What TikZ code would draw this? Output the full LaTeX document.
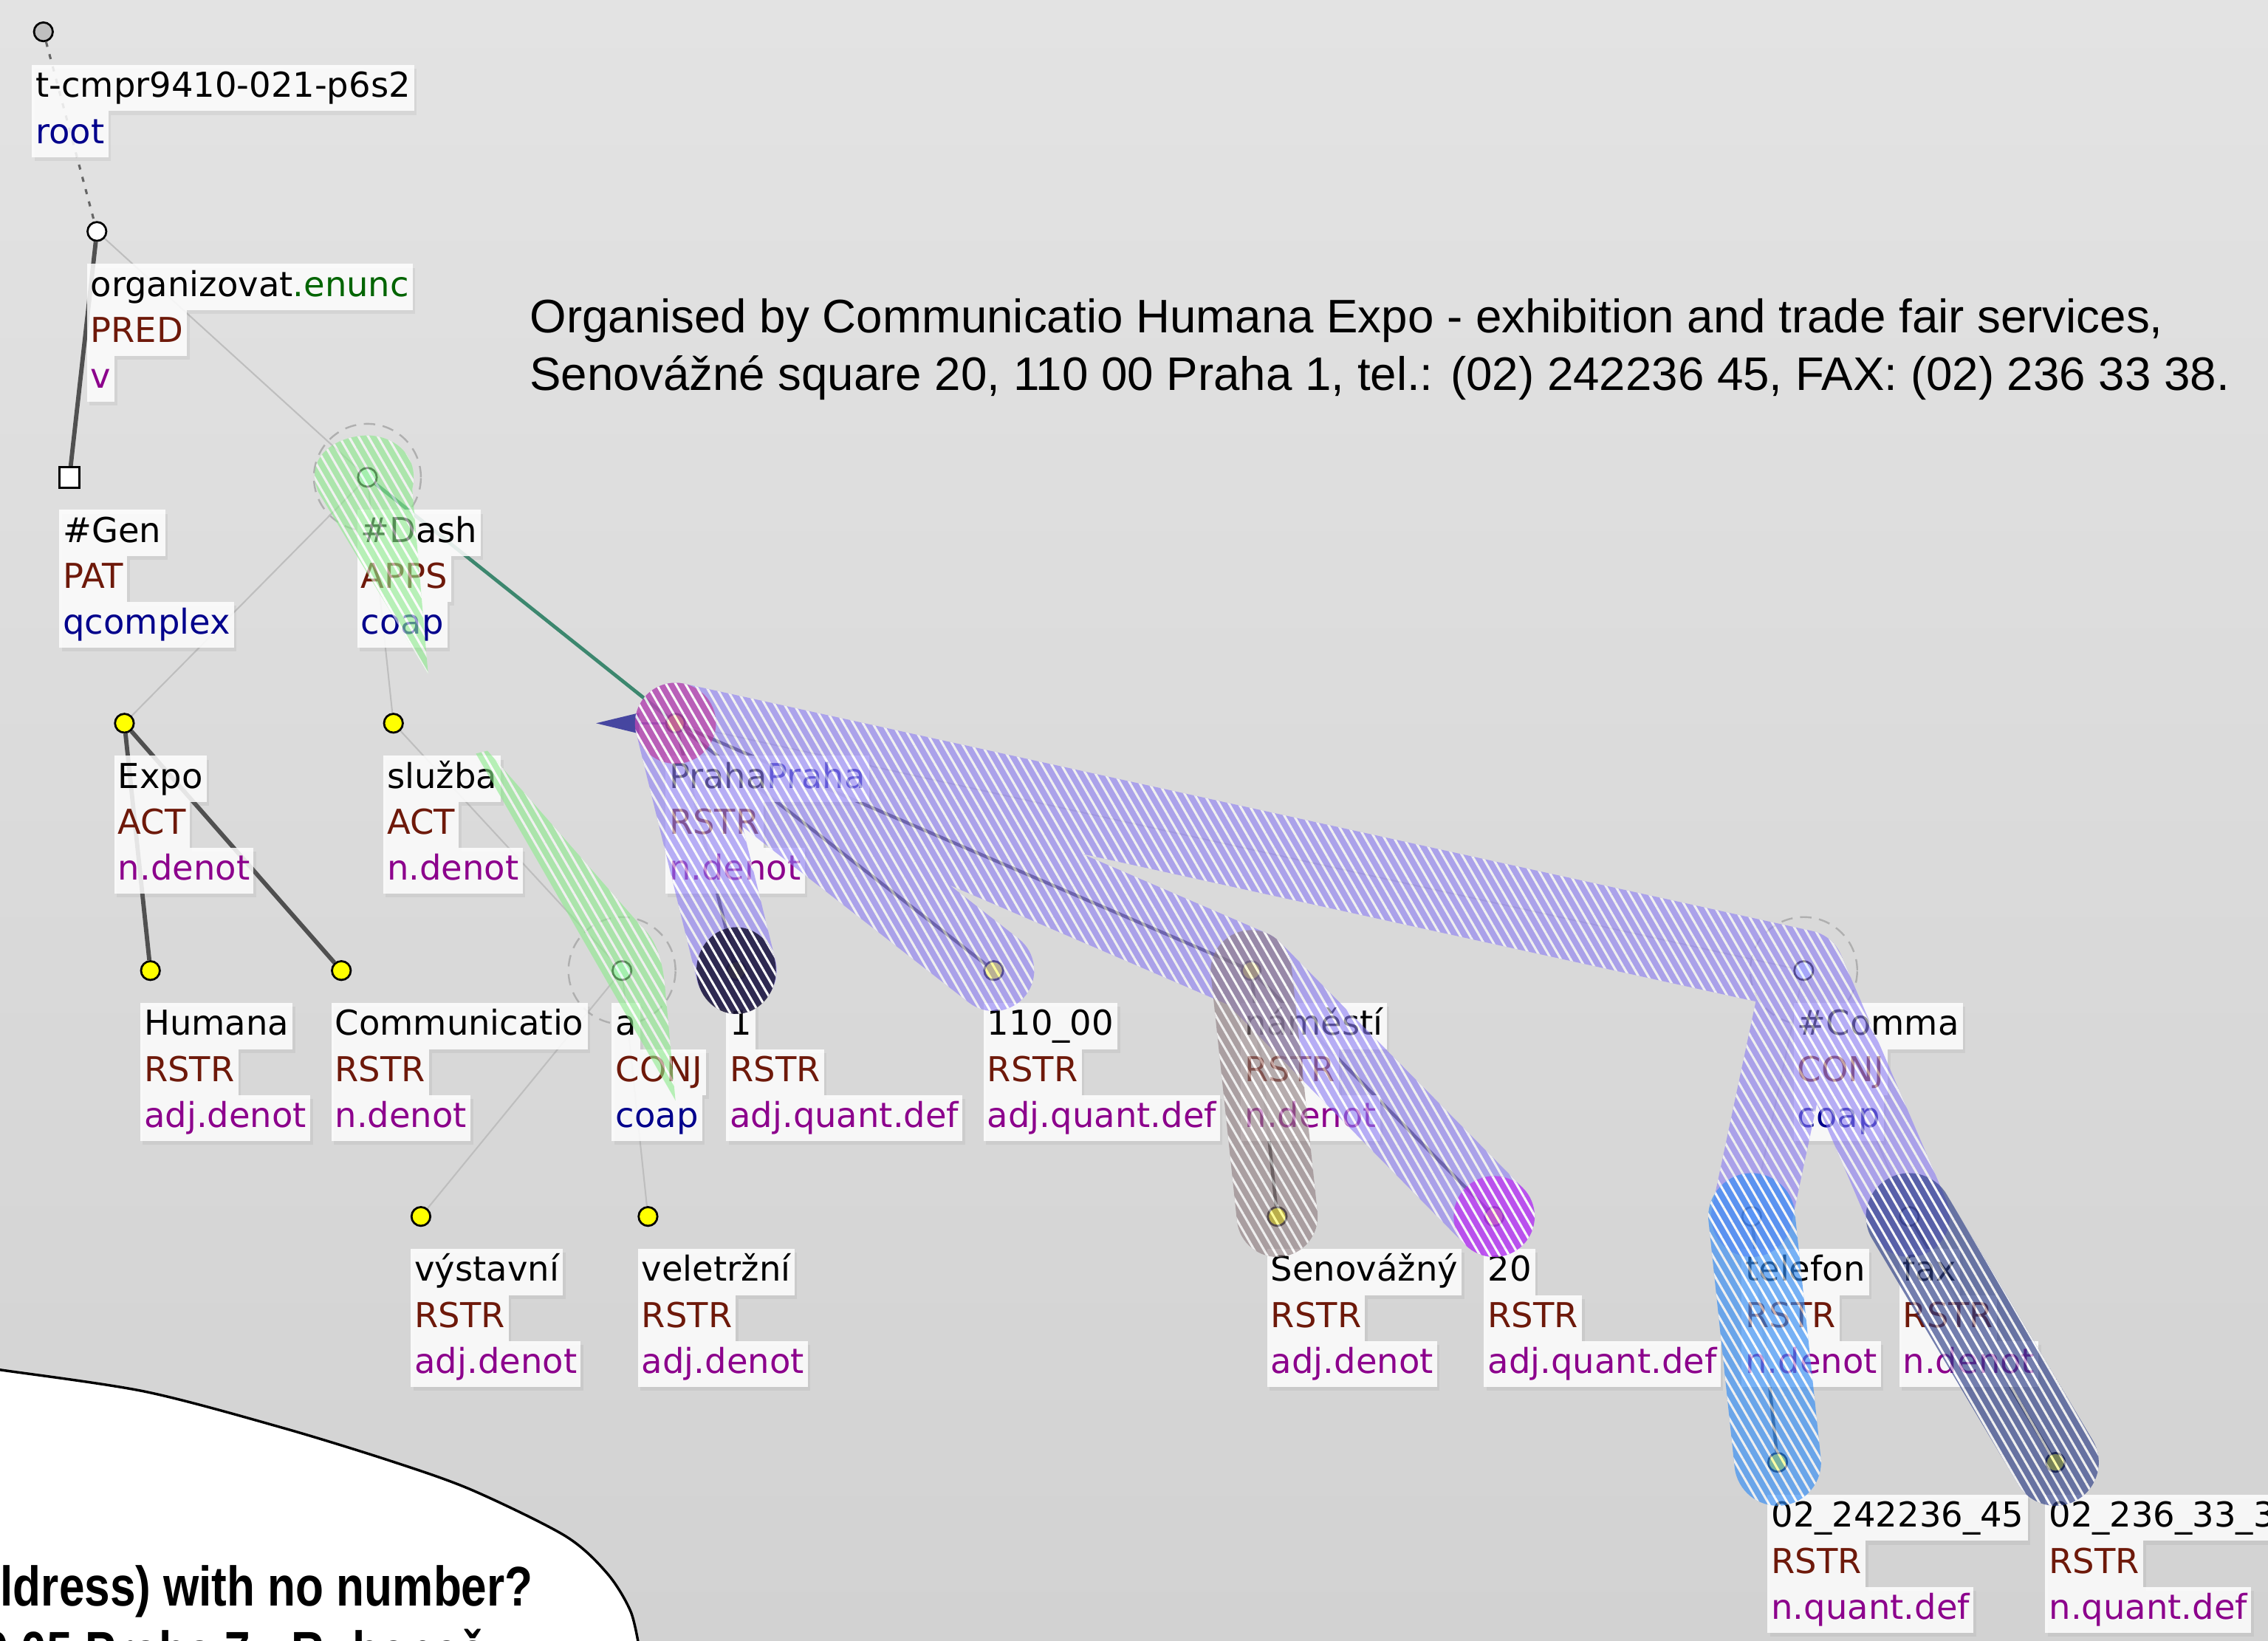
\documentclass[tikz,border=0pt]{standalone}
\usepackage{fontspec}
\newfontfamily\lblfont{DejaVu Sans}
\newfontfamily\capfont{Liberation Sans}
\newfontfamily\bubblefont[FakeStretch=0.82]{Liberation Sans}
\usetikzlibrary{arrows.meta,shadows,calc,patterns.meta}
\definecolor{bgtop}{RGB}{227,227,227}
\definecolor{bgbot}{RGB}{210,210,210}
\definecolor{funcol}{RGB}{110,25,10}
\definecolor{gramcol}{RGB}{140,0,140}
\definecolor{nblue}{RGB}{0,0,140}
\definecolor{ngreen}{RGB}{0,100,0}
\definecolor{pblue}{RGB}{40,40,170}
\definecolor{ymark}{RGB}{255,255,0}
\definecolor{mint}{RGB}{200,245,225}
\definecolor{lblue}{RGB}{205,232,255}
\definecolor{rootgray}{RGB}{190,190,190}
\definecolor{edgedark}{RGB}{80,80,80}
\definecolor{edgelight}{RGB}{190,190,190}
\definecolor{ringgray}{RGB}{175,175,175}
\definecolor{corefgreen}{RGB}{60,135,110}
\definecolor{arrblue}{RGB}{70,70,160}
\definecolor{hlpurple}{RGB}{140,125,245}
\definecolor{hlmauve}{RGB}{140,122,125}
\definecolor{hlsky}{RGB}{50,140,245}
\definecolor{hlslate}{RGB}{45,62,135}
\definecolor{hlpink}{RGB}{195,50,150}
\definecolor{hldark}{RGB}{25,20,55}
\definecolor{hlmag}{RGB}{195,40,240}
\definecolor{hlgreen}{RGB}{140,235,140}
\pgfdeclarelayer{back}
\pgfdeclarelayer{edges}
\pgfdeclarelayer{hl}
\pgfdeclarelayer{front}
\pgfsetlayers{back,edges,main,hl,front}
\tikzset{
  tn/.style={circle,draw,line width=0.8pt,inner sep=0pt,minimum size=0.26cm,fill=ymark},
  sqn/.style={rectangle,draw,line width=0.9pt,inner sep=0pt,minimum size=0.28cm,fill=white},
  lbl/.style={anchor=north west,fill=white,fill opacity=.85,text opacity=1,
    inner xsep=1.5pt,inner ysep=2.2pt,outer sep=0pt,text height=10.5pt,text depth=3.2pt,
    font=\lblfont\fontsize{13.5}{16}\selectfont,
    drop shadow={opacity=.12,shadow xshift=1pt,shadow yshift=-1.5pt}},
  thinedge/.style={draw=edgelight,line width=0.6pt},
  thickedge/.style={draw=edgedark,line width=1.7pt},
  darkedge/.style={draw=edgedark!80!black,line width=1.3pt},
  rootedge/.style={draw=gray!80!black,line width=0.9pt,dash pattern=on 2pt off 3pt},
  corefedge/.style={draw=corefgreen,line width=1.4pt},
  arrowedge/.style={draw=arrblue,line width=0.9pt,-{Triangle[length=0.6cm,width=0.28cm]}},
  coapring/.style={draw=ringgray,line width=0.7pt,dash pattern=on 4.5pt off 3pt},
  hatch/.style={postaction={pattern={Lines[angle=-60,distance=3.3pt,line width=0.9pt]},pattern color=white}},
}
\newcommand{\tlabel}[4]{%
  \node[lbl] (#1-1) at ([shift={(-7,22.5)}]#1.center) {#2};
  \node[lbl,text=funcol] (#1-2) at (#1-1.south west) {#3};
  \node[lbl,text=gramcol] (#1-3) at (#1-2.south west) {#4};}
% band with round ends between two nodes
\newcommand{\stad}[3]{%
  let \p1=(#1.center), \p2=(#2.center), \n1={atan2(\y2-\y1,\x2-\x1)} in
  ($(\p1)+(\n1+90:#3)$) arc[start angle=\n1+90,end angle=\n1+270,radius=#3]
  -- ($(\p2)+(\n1-90:#3)$) arc[start angle=\n1-90,end angle=\n1+90,radius=#3] -- cycle}
\begin{document}
\begin{tikzpicture}[x=0.02cm,y=-0.02cm]
\begin{pgfonlayer}{back}
\fill[top color=bgtop,bottom color=bgbot] (0,0) rectangle (1568,1134);
\end{pgfonlayer}
\useasboundingbox (0,0) rectangle (1568,1134);

% tree nodes
\node[tn,fill=rootgray] (root) at (30,22) {};
\node[tn,fill=white] (pred) at (67,160) {};
\node[sqn] (gen) at (48,330) {};
\node[tn,fill=mint] (dash) at (254,330) {};
\node[tn] (expo) at (86,500) {};
\node[tn] (sluzba) at (272,500) {};
\node[tn] (praha) at (467,500) {};
\node[tn] (humana) at (104,671) {};
\node[tn] (commun) at (236,671) {};
\node[tn,fill=mint] (conja) at (430,671) {};
\node[tn] (one) at (509,671) {};
\node[tn] (psc) at (687,671) {};
\node[tn] (namesti) at (865,671) {};
\node[tn,fill=lblue] (comma) at (1247,671) {};
\node[tn] (vystavni) at (291,841) {};
\node[tn] (veletrzni) at (448,841) {};
\node[tn] (senovazny) at (883,841) {};
\node[tn] (twenty) at (1033,841) {};
\node[tn,fill=lblue] (telefon) at (1211,841) {};
\node[tn,fill=lblue] (fax) at (1320,841) {};
\node[tn] (telnum) at (1229,1011) {};
\node[tn] (faxnum) at (1421,1011) {};
\coordinate (praha-ar) at (412,500);

% labels
\node[lbl] (root-1) at ([shift={(-8,23)}]root.center) {t-cmpr9410-021-p6s2};
\node[lbl,text=nblue] (root-2) at (root-1.south west) {root};
\tlabel{pred}{organizovat\textcolor{ngreen}{.enunc}}{PRED}{v}
\tlabel{gen}{\#Gen}{PAT}{\textcolor{nblue}{qcomplex}}
\tlabel{dash}{\#Dash}{APPS}{\textcolor{nblue}{coap}}
\tlabel{expo}{Expo}{ACT}{n.denot}
\tlabel{sluzba}{služba}{ACT}{n.denot}
\tlabel{praha}{Praha\textcolor{pblue}{Praha}}{RSTR}{n.denot}
\tlabel{humana}{Humana}{RSTR}{adj.denot}
\tlabel{commun}{Communicatio}{RSTR}{n.denot}
\tlabel{conja}{a}{CONJ}{\textcolor{nblue}{coap}}
\tlabel{one}{1}{RSTR}{adj.quant.def}
\tlabel{psc}{110\_00}{RSTR}{adj.quant.def}
\tlabel{namesti}{náměstí}{RSTR}{n.denot}
\tlabel{comma}{\#Comma}{CONJ}{\textcolor{nblue}{coap}}
\tlabel{vystavni}{výstavní}{RSTR}{adj.denot}
\tlabel{veletrzni}{veletržní}{RSTR}{adj.denot}
\tlabel{senovazny}{Senovážný}{RSTR}{adj.denot}
\tlabel{twenty}{20}{RSTR}{adj.quant.def}
\tlabel{telefon}{telefon}{RSTR}{n.denot}
\tlabel{fax}{fax}{RSTR}{n.denot}
\tlabel{telnum}{02\_242236\_45}{RSTR}{n.quant.def}
\tlabel{faxnum}{02\_236\_33\_38}{RSTR}{n.quant.def}

% edges
\begin{pgfonlayer}{edges}
\draw[coapring] (dash) circle[radius=0.74cm];
\draw[coapring] (conja) circle[radius=0.74cm];
\draw[coapring] (comma) circle[radius=0.74cm];
\draw[rootedge] (root) -- (pred);
\draw[thinedge] (pred) -- (dash);
\draw[thinedge] (dash) -- (expo);
\draw[thinedge] (dash) -- (sluzba);
\draw[thinedge] (sluzba) -- (conja);
\draw[thinedge] (conja) -- (vystavni);
\draw[thinedge] (conja) -- (veletrzni);
\draw[thinedge] (praha) -- (comma);
\draw[thinedge] (comma) -- (telefon);
\draw[thinedge] (comma) -- (fax);
\draw[thickedge] (pred) -- (gen);
\draw[thickedge] (expo) -- (humana);
\draw[thickedge] (expo) -- (commun);
\draw[darkedge] (praha) -- (one);
\draw[darkedge] (praha) -- (psc);
\draw[darkedge] (praha) -- (namesti);
\draw[darkedge] (namesti) -- (senovazny);
\draw[darkedge] (namesti) -- (twenty);
\draw[darkedge] (telefon) -- (telnum);
\draw[darkedge] (fax) -- (faxnum);
\draw[corefedge] (dash) -- (praha);
\draw[arrowedge] (praha) -- (praha-ar);
\end{pgfonlayer}

% highlights
\begin{pgfonlayer}{hl}
\begin{scope}[transparency group,opacity=.6]
\path[fill=hlpurple,hatch] \stad{praha}{comma}{.56cm} \stad{comma}{telefon}{.56cm} \stad{comma}{fax}{.56cm}
  \stad{praha}{one}{.56cm} \stad{praha}{psc}{.56cm} \stad{praha}{namesti}{.56cm} \stad{namesti}{twenty}{.56cm};
\end{scope}
\begin{scope}[transparency group,opacity=.6]
\path[fill=hlmauve,hatch] \stad{namesti}{senovazny}{.56cm};
\end{scope}
\begin{scope}[transparency group,opacity=.65]
\path[fill=hlsky,hatch] \stad{telefon}{telnum}{.6cm};
\end{scope}
\begin{scope}[transparency group,opacity=.65]
\path[fill=hlslate,hatch] \stad{fax}{faxnum}{.6cm};
\end{scope}
\begin{scope}[transparency group,opacity=.6]
\path[fill=hlpink,hatch] (praha) circle[radius=0.56cm];
\end{scope}
\begin{scope}[transparency group,opacity=.85]
\path[fill=hldark,hatch] (one) circle[x radius=0.55cm,y radius=0.6cm];
\end{scope}
\begin{scope}[transparency group,opacity=.65]
\path[fill=hlmag,hatch] (twenty) circle[radius=0.56cm];
\end{scope}
\begin{scope}[transparency group,opacity=.6]
\path[fill=hlgreen,hatch] (296,466) -- (220,340) .. controls (210,316) and (232,301) .. (255,301)
  .. controls (276,302) and (290,318) .. (285,338) -- cycle;
\path[fill=hlgreen,hatch] (329,521) -- (467,761) -- (460,685) .. controls (458,660) and (452,648) .. (443,640)
  -- (337,519) -- cycle;
\end{scope}
\end{pgfonlayer}

% caption and bubble
\begin{pgfonlayer}{front}
\node[anchor=base west,inner sep=0pt,font=\capfont\fontsize{18.5}{22}\selectfont] (note1) at (366,230)
  {Organised by Communicatio Humana Expo - exhibition and trade fair services,};
\node[anchor=base west,inner sep=0pt,font=\capfont\fontsize{18.5}{22}\selectfont] (note2) at (366,270)
  {Senovážné square 20, 110 00 Praha 1, tel.: (02) 242236 45, FAX: (02) 236 33 38.};
\draw[line width=1pt,fill=white] plot[smooth] coordinates {(-5,946) (0,947) (100,962) (195,987) (270,1010)
  (326,1030) (391,1062) (420,1088) (436,1114) (442,1140)} -- (-5,1140) -- cycle;
\node[anchor=base west,inner sep=0pt,font=\bubblefont\bfseries\fontsize{22}{26}\selectfont] (ask1) at (0,1110)
  {ldress) with no number?};
\node[anchor=base west,inner sep=0pt,font=\bubblefont\bfseries\fontsize{22}{26}\selectfont] (ask2) at (-12,1155)
  {0 05 Praha 7 - Rubeneč};
\end{pgfonlayer}
\end{tikzpicture}
\end{document}
